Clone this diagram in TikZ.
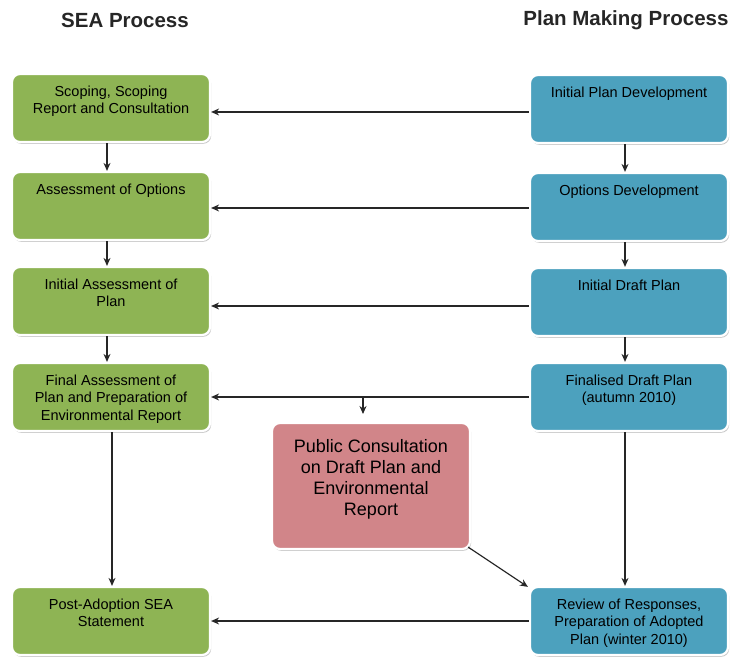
\documentclass[tikz,border=0pt]{standalone}
\usepackage{fontspec}
\setmainfont{Liberation Sans}
\usetikzlibrary{arrows.meta,shadows}
\definecolor{sgreen}{RGB}{142,180,84}
\definecolor{sblue}{RGB}{76,161,190}
\definecolor{spink}{RGB}{209,133,137}
\newcommand{\topbox}[2]{\parbox[c][#1][t]{190pt}{\centering\vspace*{7.5pt}#2}}
\tikzset{
  pbox/.style={rounded corners=8pt, draw=white, line width=2.2pt,
    minimum width=198pt, inner sep=4pt,
    font=\fontsize{14.5}{17.5}\selectfont,
    drop shadow={shadow xshift=1.2pt, shadow yshift=-1.8pt, fill=black!35, opacity=0.6}},
  gbox/.style={pbox, fill=sgreen},
  bbox/.style={pbox, fill=sblue},
  kbox/.style={pbox, fill=spink, font=\fontsize{18}{21}\selectfont},
  arr/.style={-{Stealth[length=8pt,width=7pt]}, line width=1.2pt, black!85},
  ttl/.style={font=\fontsize{20.5}{24}\selectfont\bfseries, text=black!85}
}
\begin{document}
\begin{tikzpicture}[x=1pt,y=-1pt]
\useasboundingbox (0,0) rectangle (733,660);
\node[ttl] (t1) at (125,20) {SEA Process};
\node[ttl, anchor=east] (t2) at (732,20) {Plan Making Process};
% green column
\node[gbox] (g1) at (111,108) {\topbox{60pt}{Scoping, Scoping\\Report and Consultation}};
\node[gbox] (g2) at (111,206) {\topbox{60pt}{Assessment of Options}};
\node[gbox] (g3) at (111,301) {\topbox{60pt}{Initial Assessment of\\Plan}};
\node[gbox] (g4) at (111,397) {\topbox{60pt}{Final Assessment of\\Plan and Preparation of\\Environmental Report}};
\node[gbox] (g5) at (111,621) {\topbox{60pt}{Post-Adoption SEA\\Statement}};
% blue column
\node[bbox] (b1) at (629,109) {\topbox{60pt}{Initial Plan Development}};
\node[bbox] (b2) at (629,207) {\topbox{60pt}{Options Development}};
\node[bbox] (b3) at (629,302) {\topbox{60pt}{Initial Draft Plan}};
\node[bbox] (b4) at (629,397) {\topbox{60pt}{Finalised Draft Plan\\(autumn 2010)}};
\node[bbox] (b5) at (629,621) {\topbox{60pt}{Review of Responses,\\Preparation of Adopted\\Plan (winter 2010)}};
% pink
\node[kbox] (p) at (371,486) {\parbox[c][118pt][t]{190pt}{\centering\vspace*{12pt}Public Consultation\\on Draft Plan and\\Environmental\\Report}};
% horizontal arrows
\draw[arr] ([yshift=-3pt]b1.west) -- ([yshift=-3pt]b1.west -| g1.east);
\draw[arr] ([yshift=-1pt]b2.west) -- ([yshift=-1pt]b2.west -| g2.east);
\draw[arr] ([yshift=-4pt]b3.west) -- ([yshift=-4pt]b3.west -| g3.east);
\draw[arr] (b4.west) -- (b4.west -| g4.east);
\draw[arr] (b5.west) -- (b5.west -| g5.east);
% vertical arrows
\draw[arr] ([xshift=-4pt]g1.south) -- ([xshift=-4pt]g1.south |- g2.north);
\draw[arr] ([xshift=-4pt]g2.south) -- ([xshift=-4pt]g2.south |- g3.north);
\draw[arr] ([xshift=-4pt]g3.south) -- ([xshift=-4pt]g3.south |- g4.north);
\draw[arr] ([xshift=1pt]g4.south) -- ([xshift=1pt]g4.south |- g5.north);
\draw[arr] ([xshift=-4pt]b1.south) -- ([xshift=-4pt]b1.south |- b2.north);
\draw[arr] ([xshift=-4pt]b2.south) -- ([xshift=-4pt]b2.south |- b3.north);
\draw[arr] ([xshift=-4pt]b3.south) -- ([xshift=-4pt]b3.south |- b4.north);
\draw[arr] ([xshift=-4pt]b4.south) -- ([xshift=-4pt]b4.south |- b5.north);
% branch to pink
\coordinate (j) at (363,397);
\coordinate (jt) at (363,414);
\draw[arr] (j) -- (jt);
\draw[arr] ([shift={(-3pt,3pt)}]p.south east) -- ([shift={(-1pt,-1pt)}]b5.north west);
\end{tikzpicture}
\end{document}
